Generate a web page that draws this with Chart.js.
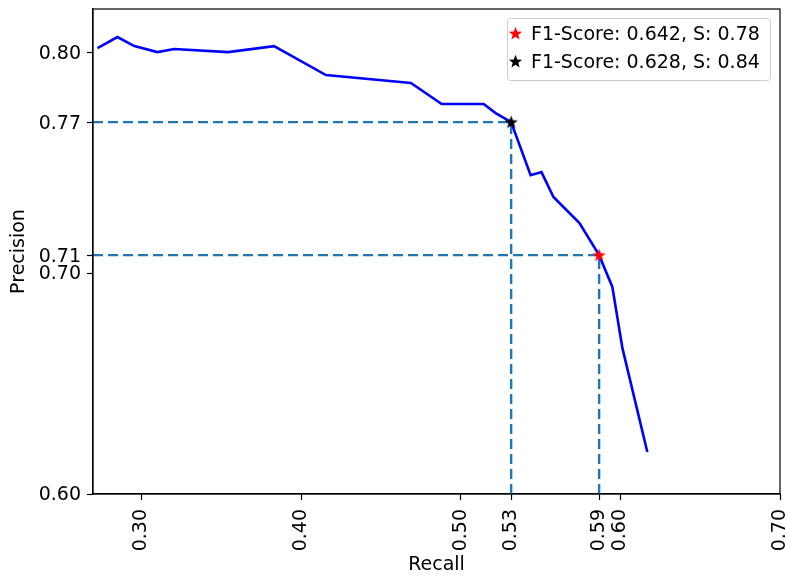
<!DOCTYPE html>
<html>
<head>
<meta charset="utf-8">
<script src="https://cdn.jsdelivr.net/npm/chart.js@4"></script>
<style>
  html, body { margin: 0; padding: 0; background: #fff; }
  #wrap { width: 786px; height: 576px; }
</style>
</head>
<body>
<div id="wrap"><canvas id="chart" width="786" height="576"></canvas></div>
<script>
// precision / recall curve
const recall = [0.2725, 0.285, 0.2956, 0.310, 0.3206, 0.3544, 0.3831, 0.4156, 0.4688, 0.4881,
                0.5144, 0.5219, 0.5316, 0.5438, 0.5506, 0.5581, 0.5744, 0.5867, 0.595, 0.6013, 0.6169];
const precision = [0.8018, 0.8068, 0.8027, 0.800, 0.8014, 0.800, 0.8027, 0.7896, 0.786, 0.7765,
                   0.7765, 0.7724, 0.7683, 0.7443, 0.7457, 0.7344, 0.7226, 0.7081, 0.6937, 0.666, 0.619];

// the two picked thresholds
const bestLabels = ['F1-Score: 0.642, S: 0.78', 'F1-Score: 0.628, S: 0.84'];
const bestRecall = [0.5867, 0.5316];
const bestPrecision = [0.7081, 0.7683];
const bestColors = ['#ff0000', '#000000'];

const xTicks = [0.30, 0.40, 0.50, 0.5316, 0.5867, 0.60, 0.70];
const yTicks = [0.60, 0.70, 0.7081, 0.7683, 0.80];
const xMin = 0.2697, xMax = 0.70;
const yMin = 0.60, yMax = 0.8195;

const FONT = { family: 'DejaVu Sans', size: 19 };

function starImage(color) {
  const c = document.createElement('canvas');
  c.width = 15; c.height = 15;
  const g = c.getContext('2d');
  g.fillStyle = color;
  g.beginPath();
  for (let i = 0; i < 10; i++) {
    const r = i % 2 === 0 ? 7 : 2.9;
    const a = -Math.PI / 2 + i * Math.PI / 5;
    const px = 7.5 + r * Math.cos(a), py = 7.8 + r * Math.sin(a);
    if (i === 0) g.moveTo(px, py); else g.lineTo(px, py);
  }
  g.closePath();
  g.fill();
  return c;
}
const stars = bestColors.map(starImage);

// dashed guide lines from the axes to each picked point
const guides = bestRecall.map((r, i) => ({
  label: 'guide' + i,
  data: [{ x: xMin, y: bestPrecision[i] }, { x: r, y: bestPrecision[i] }, { x: r, y: yMin }],
  showLine: true,
  borderColor: '#1f77b4',
  borderWidth: 2.4,
  borderDash: [10, 5],
  pointRadius: 0,
  fill: false,
  order: 2
}));

const framePlugin = {
  id: 'frame',
  afterDraw(chart) {
    const { ctx, chartArea: a } = chart;
    ctx.save();
    ctx.strokeStyle = '#000';
    ctx.lineWidth = 1.2;
    ctx.strokeRect(a.left, a.top, a.right - a.left, a.bottom - a.top);

    // legend box top right
    const bx = 507, by = 18, bw = 263, bh = 62;
    ctx.fillStyle = 'rgba(255,255,255,0.8)';
    ctx.strokeStyle = '#cccccc';
    ctx.lineWidth = 1;
    ctx.beginPath();
    ctx.roundRect(bx + 0.5, by + 0.5, bw, bh, 3);
    ctx.fill();
    ctx.stroke();
    ctx.font = '19px "DejaVu Sans"';
    ctx.fillStyle = '#000';
    ctx.textBaseline = 'middle';
    bestLabels.forEach((t, i) => {
      const cy = by + 16 + i * 28;
      ctx.drawImage(stars[i], 508, cy - 8);
      ctx.fillText(t, 531, cy + 1);
    });
    ctx.restore();
  }
};

new Chart(document.getElementById('chart'), {
  type: 'scatter',
  data: {
    datasets: [
      ...guides,
      {
        label: 'curve',
        data: recall.map((r, i) => ({ x: r, y: precision[i] })),
        showLine: true,
        borderColor: '#0000ff',
        borderWidth: 2.6,
        pointRadius: 0,
        fill: false,
        order: 1
      },
      ...bestLabels.map((l, i) => ({
        label: l,
        data: [{ x: bestRecall[i], y: bestPrecision[i] }],
        pointStyle: stars[i],
        pointRadius: 7,
        order: 0
      }))
    ]
  },
  options: {
    responsive: false,
    animation: false,
    layout: { autoPadding: false, padding: { top: 9, right: 6, bottom: 0, left: 0 } },
    plugins: {
      legend: { display: false },
      tooltip: { enabled: false }
    },
    scales: {
      x: {
        type: 'linear',
        min: xMin,
        max: xMax,
        afterBuildTicks: s => { s.ticks = xTicks.map(v => ({ value: v })); },
        afterFit: s => { s.height = 82; s.paddingRight = 0; s.paddingLeft = 0; },
        grid: { drawOnChartArea: false, tickLength: 6, tickColor: '#000', tickWidth: 1.2 },
        border: { color: '#000', width: 1.2 },
        ticks: {
          color: '#000',
          font: FONT,
          padding: 9,
          minRotation: 90,
          maxRotation: 90,
          autoSkip: false,
          callback: v => Number(v).toFixed(2)
        },
        title: { display: true, text: 'Recall', color: '#000', font: FONT, padding: { top: -4, bottom: 0 } }
      },
      y: {
        type: 'linear',
        min: yMin,
        max: yMax,
        afterBuildTicks: s => { s.ticks = yTicks.map(v => ({ value: v })); },
        afterFit: s => { s.width = 93; s.paddingTop = 0; s.paddingBottom = 0; },
        grid: { drawOnChartArea: false, tickLength: 6, tickColor: '#000', tickWidth: 1.2 },
        border: { color: '#000', width: 1.2 },
        ticks: {
          color: '#000',
          font: FONT,
          padding: 6,
          labelOffset: 1.5,
          autoSkip: false,
          callback: v => Number(v).toFixed(2)
        },
        title: { display: true, text: 'Precision', color: '#000', font: FONT, padding: { top: 8, bottom: 0 } }
      }
    }
  },
  plugins: [framePlugin]
});
</script>
</body>
</html>
